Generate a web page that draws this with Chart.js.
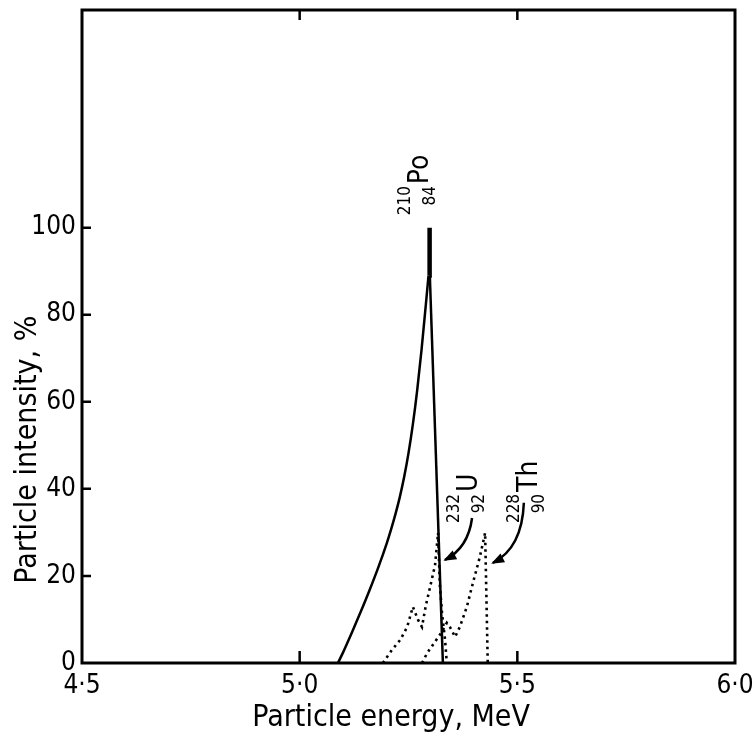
<!DOCTYPE html>
<html>
<head>
<meta charset="utf-8">
<script src="https://cdn.jsdelivr.net/npm/chart.js@4.4.0/dist/chart.umd.min.js"></script>
<style>
  html, body { margin: 0; padding: 0; background: #fff; }
  canvas { display: block; }
</style>
</head>
<body>
<canvas id="espectro" width="754" height="746"></canvas>
<script>
const FUENTE = "'DejaVu Sans Condensed', 'DejaVu Sans', sans-serif";

// Valores: energía (MeV) e intensidad (%)
// 210Po: flanco izquierdo, pico fino y flanco derecho
const poSubidaEnergia    = [5.088, 5.10, 5.12, 5.14, 5.16, 5.18, 5.20, 5.21, 5.22, 5.23, 5.24, 5.25, 5.26, 5.27, 5.28, 5.29, 5.296];
const poSubidaIntensidad = [0, 2.5, 7.0, 11.7, 16.6, 21.8, 27.5, 30.7, 34.2, 38.1, 42.7, 48.2, 54.8, 62.7, 72.0, 82.5, 89];
const picoEnergia    = [5.2975, 5.2985];
const picoIntensidad = [89, 100];
const poBajadaEnergia    = [5.299, 5.329];
const poBajadaIntensidad = [89, 0];

const uEnergia    = [5.191, 5.212, 5.231, 5.247, 5.260, 5.272, 5.281, 5.290, 5.299, 5.311, 5.318, 5.322, 5.327, 5.334, 5.338];
const uIntensidad = [0, 3.0, 5.3, 8.3, 12.9, 9.9, 8.3, 13.3, 17.2, 22.5, 29.9, 17.9, 11.5, 5.3, 0];

const thEnergia    = [5.281, 5.293, 5.309, 5.325, 5.338, 5.345, 5.357, 5.368, 5.384, 5.398, 5.414, 5.426, 5.429, 5.432];
const thIntensidad = [0, 2.3, 4.6, 6.9, 9.2, 8.3, 6.0, 8.3, 12.9, 18.4, 24.4, 29.9, 15, 0];

const xTicks = [4.5, 5.0, 5.5, 6.0];
const xTickLabels = ['4·5', '5·0', '5·5', '6·0'];
const yTicks = [0, 20, 40, 60, 80, 100];
const yTickLabels = ['0', '20', '40', '60', '80', '100'];

// rótulos de los núclidos y flechas (en unidades de datos)
const nuclidos = [
    { simbolo: 'Po', masa: '210', z: '84', x: 5.295, y: 110 },
    { simbolo: 'U',  masa: '232', z: '92', x: 5.407, y: 39.3 },
    { simbolo: 'Th', masa: '228', z: '90', x: 5.545, y: 39.3 }
];
const flechas = [
    { desde: [5.396, 33.3], control: [5.387, 26.4], hasta: [5.334, 23.7] },
    { desde: [5.515, 36.8], control: [5.511, 26.4], hasta: [5.444, 23.0] }
];

const puntos = (xs, ys) => xs.map((x, i) => ({ x: x, y: ys[i] }));

const dibujarNuclido = (ctx, px, py, n) => {
    ctx.save();
    ctx.translate(px, py);
    ctx.rotate(-Math.PI / 2);
    ctx.fillStyle = '#000';
    ctx.textBaseline = 'alphabetic';
    ctx.textAlign = 'left';
    ctx.font = `28px ${FUENTE}`;
    ctx.fillText(n.simbolo, 0, 0);
    ctx.font = `17px ${FUENTE}`;
    ctx.textAlign = 'right';
    ctx.fillText(n.masa, -2, -18);
    ctx.fillText(n.z, -2, 7);
    ctx.restore();
};

const dibujarFlecha = (ctx, xs, ys, f) => {
    const x0 = xs.getPixelForValue(f.desde[0]), y0 = ys.getPixelForValue(f.desde[1]);
    const cx = xs.getPixelForValue(f.control[0]), cy = ys.getPixelForValue(f.control[1]);
    const x1 = xs.getPixelForValue(f.hasta[0]), y1 = ys.getPixelForValue(f.hasta[1]);
    ctx.save();
    ctx.strokeStyle = '#000';
    ctx.fillStyle = '#000';
    ctx.lineWidth = 2.5;
    ctx.beginPath();
    ctx.moveTo(x0, y0);
    ctx.quadraticCurveTo(cx, cy, x1, y1);
    ctx.stroke();
    const ang = Math.atan2(y1 - cy, x1 - cx);
    const largo = 11, ancho = 5;
    ctx.beginPath();
    ctx.moveTo(x1 + 2 * Math.cos(ang), y1 + 2 * Math.sin(ang));
    ctx.lineTo(x1 - largo * Math.cos(ang) + ancho * Math.sin(ang), y1 - largo * Math.sin(ang) - ancho * Math.cos(ang));
    ctx.lineTo(x1 - largo * Math.cos(ang) - ancho * Math.sin(ang), y1 - largo * Math.sin(ang) + ancho * Math.cos(ang));
    ctx.closePath();
    ctx.fill();
    ctx.restore();
};

// marco, marcas interiores, títulos y rótulos
const decoracion = {
    id: 'decoracion',
    afterDraw(chart) {
        const ctx = chart.ctx;
        const area = chart.chartArea;
        const xs = chart.scales.x, ys = chart.scales.y;
        ctx.save();
        ctx.strokeStyle = '#000';
        ctx.lineWidth = 3;
        ctx.strokeRect(area.left, area.top, area.right - area.left, area.bottom - area.top);

        ctx.beginPath();
        [5.0, 5.5].forEach(v => {
            const px = xs.getPixelForValue(v);
            ctx.moveTo(px, area.bottom);
            ctx.lineTo(px, area.bottom - 12);
            ctx.moveTo(px, area.top);
            ctx.lineTo(px, area.top + 10);
        });
        yTicks.slice(1).forEach(v => {
            const py = ys.getPixelForValue(v);
            ctx.moveTo(area.left, py);
            ctx.lineTo(area.left + 9, py);
        });
        ctx.lineWidth = 2.5;
        ctx.stroke();

        ctx.fillStyle = '#000';
        ctx.font = `30px ${FUENTE}`;
        ctx.textAlign = 'center';
        ctx.textBaseline = 'middle';
        ctx.fillText('Particle energy, MeV', xs.getPixelForValue(5.21), area.bottom + 55);

        ctx.translate(28, ys.getPixelForValue(49));
        ctx.rotate(-Math.PI / 2);
        ctx.fillText('Particle intensity, %', 0, 0);
        ctx.restore();

        nuclidos.forEach(n => dibujarNuclido(ctx, xs.getPixelForValue(n.x), ys.getPixelForValue(n.y), n));
        flechas.forEach(f => dibujarFlecha(ctx, xs, ys, f));
    }
};

const crearGrafico = () => {
    const ctx = document.getElementById('espectro').getContext('2d');
    const continuo = {
        borderColor: '#000',
        borderWidth: 2.5,
        pointRadius: 0,
        showLine: true,
        tension: 0
    };
    const punteado = {
        borderColor: '#000',
        borderWidth: 2.6,
        borderDash: [2.5, 4],
        pointRadius: 0,
        showLine: true,
        tension: 0
    };

    new Chart(ctx, {
        type: 'scatter',
        data: {
            datasets: [
                Object.assign({}, continuo, {
                    label: '210Po',
                    data: puntos(poSubidaEnergia, poSubidaIntensidad),
                    cubicInterpolationMode: 'monotone'
                }),
                Object.assign({}, continuo, {
                    label: '210Po pico',
                    data: puntos(picoEnergia, picoIntensidad),
                    borderWidth: 4.5
                }),
                Object.assign({}, continuo, {
                    label: '210Po bajada',
                    data: puntos(poBajadaEnergia, poBajadaIntensidad)
                }),
                Object.assign({}, punteado, { label: '232U', data: puntos(uEnergia, uIntensidad) }),
                Object.assign({}, punteado, { label: '228Th', data: puntos(thEnergia, thIntensidad) })
            ]
        },
        options: {
            responsive: false,
            animation: false,
            devicePixelRatio: 1,
            layout: { padding: { left: 0, top: 10, right: 19, bottom: 0 } },
            plugins: {
                legend: { display: false },
                tooltip: { enabled: false }
            },
            scales: {
                x: {
                    type: 'linear',
                    min: 4.5,
                    max: 6.0,
                    grid: { display: false, drawTicks: false },
                    border: { display: false },
                    afterBuildTicks: scale => { scale.ticks = xTicks.map(v => ({ value: v })); },
                    afterFit: scale => {
                        scale.height = 83;
                        scale.paddingLeft = 0;
                        scale.paddingRight = 0;
                    },
                    ticks: {
                        autoSkip: false,
                        maxRotation: 0,
                        padding: 8,
                        color: '#000',
                        font: { family: FUENTE, size: 26 },
                        callback: (value, index) => xTickLabels[index]
                    }
                },
                y: {
                    min: 0,
                    max: 150,
                    grid: { display: false, drawTicks: false },
                    border: { display: false },
                    afterBuildTicks: scale => { scale.ticks = yTicks.map(v => ({ value: v })); },
                    afterFit: scale => {
                        scale.width = 82;
                        scale.paddingTop = 0;
                        scale.paddingBottom = 0;
                    },
                    ticks: {
                        autoSkip: false,
                        padding: 6,
                        color: '#000',
                        font: { family: FUENTE, size: 26 },
                        callback: (value, index) => yTickLabels[index]
                    }
                }
            }
        },
        plugins: [decoracion]
    });
};

window.addEventListener('DOMContentLoaded', crearGrafico);
</script>
</body>
</html>
